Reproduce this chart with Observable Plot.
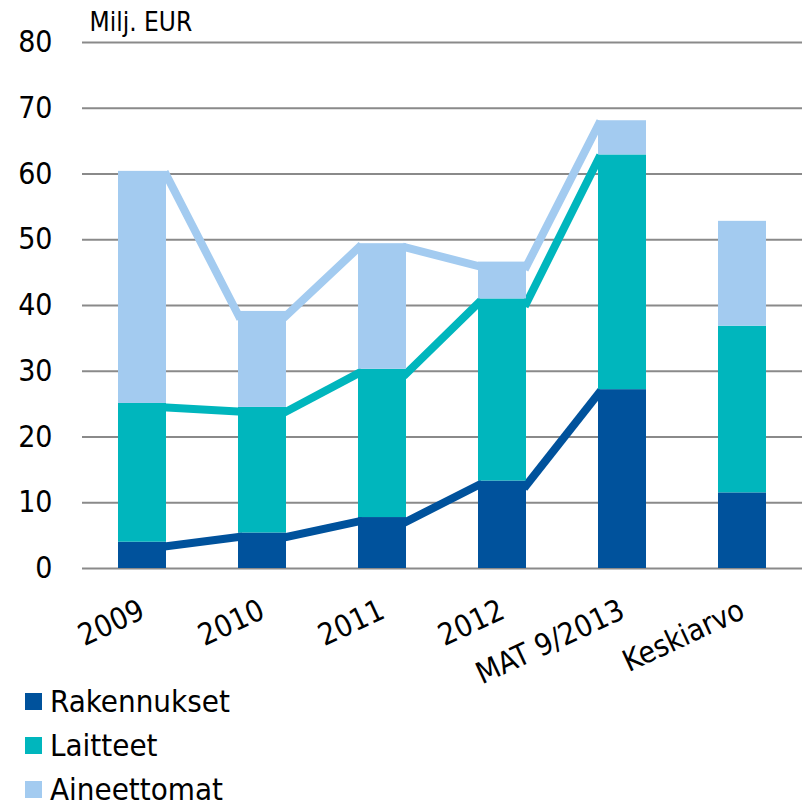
<!DOCTYPE html>
<html>
<head>
<meta charset="utf-8">
<script src="https://cdn.jsdelivr.net/npm/d3@7"></script>
<script src="https://cdn.jsdelivr.net/npm/@observablehq/plot@0.6"></script>
<style>
  html, body { margin: 0; padding: 0; background: #fff; }
  body { width: 802px; height: 805px; overflow: hidden; font-family: "DejaVu Sans Condensed", "DejaVu Sans", sans-serif; font-stretch: condensed; }
  #chart svg { display: block; }
  #legend { position: relative; margin-left: 25px; margin-top: -11px; }
  .row { display: flex; align-items: center; height: 44px; font-size: 31px; line-height: 1; color: #000; }
  .sw { width: 17px; height: 17px; margin-right: 8px; flex: none; }
</style>
</head>
<body>
<div id="chart"></div>
<div id="legend"></div>
<script>
const categories = ["2009", "2010", "2011", "2012", "MAT 9/2013", "Keskiarvo"];
const seriesNames = ["Rakennukset", "Laitteet", "Aineettomat"];
const rakennukset = [4.0, 5.4, 7.75, 13.3, 27.2, 11.5];
const laitteet = [21.1, 19.1, 22.55, 27.7, 35.7, 25.35];
const aineettomat = [35.3, 14.6, 19.1, 5.6, 5.2, 15.95];
const seriesColors = ["#00529C", "#00B6BD", "#A3CBF0"];
const yTicks = [0, 10, 20, 30, 40, 50, 60, 70, 80];
const trendCount = 5; // line connects first five categories

const values = [rakennukset, laitteet, aineettomat];
const half = 0.2;
const fontFamily = '"DejaVu Sans Condensed", "DejaVu Sans", sans-serif';

// stacked segments
const segments = [];
const tops = seriesNames.map(() => []);
categories.forEach((c, i) => {
  let cum = 0;
  seriesNames.forEach((s, k) => {
    const v = values[k][i];
    segments.push({i, series: s, y1: cum, y2: cum + v});
    cum += v;
    tops[k][i] = cum;
  });
});

// series lines between bars
const links = [];
seriesNames.forEach((s, k) => {
  for (let i = 0; i < trendCount - 1; i++) {
    links.push({series: s, x1: i + half, x2: i + 1 - half, y1: tops[k][i], y2: tops[k][i + 1]});
  }
});

const chart = Plot.plot({
  width: 802,
  height: 690,
  marginLeft: 82,
  marginRight: 0,
  marginTop: 42,
  marginBottom: 122,
  x: {domain: [-0.5, categories.length - 0.5]},
  y: {domain: [0, 80]},
  color: {domain: seriesNames, range: seriesColors},
  style: {fontFamily, fontSize: "30px", color: "#000", background: "transparent"},
  marks: [
    Plot.gridY(yTicks, {stroke: "#8a8a8a", strokeOpacity: 1, strokeWidth: 2}),
    Plot.link(links, {x1: "x1", x2: "x2", y1: "y1", y2: "y2", stroke: "series", strokeWidth: 8, strokeLinecap: "square", dy: 4}),
    Plot.rect(segments, {x1: d => d.i - half, x2: d => d.i + half, y1: "y1", y2: "y2", fill: "series"}),
    Plot.axisY({ticks: yTicks, tickSize: 0, tickPadding: 30, fontSize: 30, fontFamily}),
    Plot.axisX({ticks: d3.range(categories.length), tickFormat: i => categories[i], tickSize: 0, tickPadding: 40, tickRotate: -25, fontSize: 30, fontFamily}),
    Plot.text(["Milj. EUR"], {text: d => d, frameAnchor: "top-left", dx: 7, dy: -12, lineAnchor: "bottom", textAnchor: "start", fontSize: 26, fontFamily})
  ]
});
document.getElementById("chart").appendChild(chart);

const legend = document.getElementById("legend");
seriesNames.forEach((s, k) => {
  const row = document.createElement("div");
  row.className = "row";
  const sw = document.createElement("span");
  sw.className = "sw";
  sw.style.background = seriesColors[k];
  const label = document.createElement("span");
  label.textContent = s;
  row.appendChild(sw);
  row.appendChild(label);
  legend.appendChild(row);
});
</script>
</body>
</html>
